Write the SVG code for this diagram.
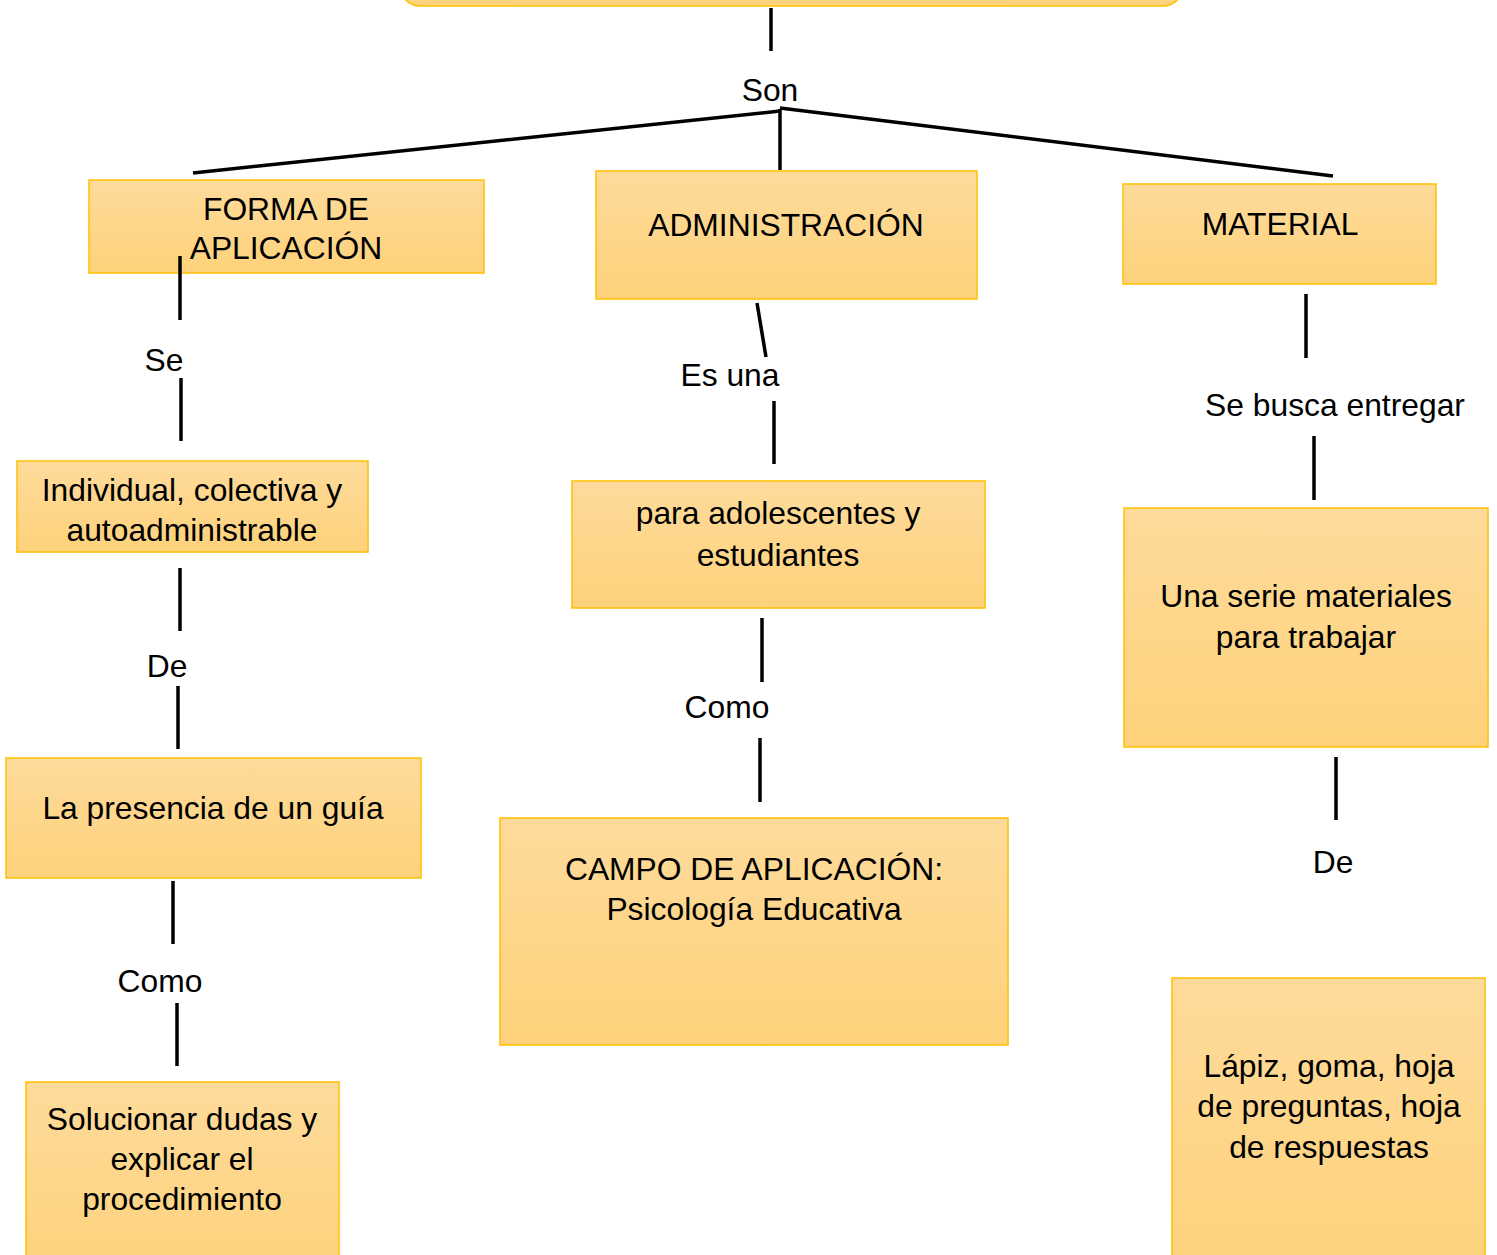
<svg xmlns="http://www.w3.org/2000/svg" width="1497" height="1255" viewBox="0 0 1497 1255">
<defs>
<linearGradient id="g" x1="0" y1="0" x2="0" y2="1">
<stop offset="0" stop-color="#fedb9b"/>
<stop offset="1" stop-color="#fed27b"/>
</linearGradient>
</defs>
<style>
.box{fill:url(#g);stroke:#ffc000;stroke-width:1.5}
.t{font-family:"Liberation Sans",Arial,sans-serif;font-size:31.8px;fill:#000;text-anchor:middle}
.c{stroke:#000;stroke-width:3.5;fill:none;stroke-linecap:butt}
</style>
<rect width="1497" height="1255" fill="#fff"/>
<g id="top"><rect class="box" x="400" y="-40" width="783" height="46" rx="20"/></g>
<g id="forma"><rect class="box" x="89" y="180" width="395" height="93"/><text class="t" x="286" y="220">FORMA DE</text><text class="t" x="286" y="259">APLICACIÓN</text></g>
<g id="admin"><rect class="box" x="596" y="171" width="381" height="128"/><text class="t" x="786" y="236">ADMINISTRACIÓN</text></g>
<g id="material"><rect class="box" x="1123" y="184" width="313" height="100"/><text class="t" x="1280" y="235">MATERIAL</text></g>
<g id="individual"><rect class="box" x="17" y="461" width="351" height="91"/><text class="t" x="192" y="501">Individual, colectiva y</text><text class="t" x="192" y="541">autoadministrable</text></g>
<g id="adolescentes"><rect class="box" x="572" y="481" width="413" height="127"/><text class="t" x="778" y="524">para adolescentes y</text><text class="t" x="778" y="566">estudiantes</text></g>
<g id="serie"><rect class="box" x="1124" y="508" width="364" height="239"/><text class="t" x="1306" y="607">Una serie materiales</text><text class="t" x="1306" y="648">para trabajar</text></g>
<g id="guia"><rect class="box" x="6" y="758" width="415" height="120"/><text class="t" x="213" y="819">La presencia de un guía</text></g>
<g id="campo"><rect class="box" x="500" y="818" width="508" height="227"/><text class="t" x="754" y="880">CAMPO DE APLICACIÓN:</text><text class="t" x="754" y="920">Psicología Educativa</text></g>
<g id="solucionar"><rect class="box" x="26" y="1082" width="313" height="200"/><text class="t" x="182" y="1130">Solucionar dudas y</text><text class="t" x="182" y="1170">explicar el</text><text class="t" x="182" y="1210">procedimiento</text></g>
<g id="lapiz"><rect class="box" x="1172" y="978" width="313" height="300"/><text class="t" x="1329" y="1077">Lápiz, goma, hoja</text><text class="t" x="1329" y="1117">de preguntas, hoja</text><text class="t" x="1329" y="1158">de respuestas</text></g>
<g id="connectors">
<line class="c" x1="771" y1="8" x2="771" y2="51"/>
<line class="c" x1="780" y1="111" x2="193" y2="173"/>
<line class="c" x1="780" y1="109" x2="780" y2="170"/>
<line class="c" x1="780" y1="108" x2="1333" y2="176"/>
<line class="c" x1="180" y1="256" x2="180" y2="320"/>
<line class="c" x1="181" y1="378" x2="181" y2="441"/>
<line class="c" x1="757" y1="303" x2="766" y2="357"/>
<line class="c" x1="774" y1="401" x2="774" y2="464"/>
<line class="c" x1="1306" y1="294" x2="1306" y2="358"/>
<line class="c" x1="1314" y1="436" x2="1314" y2="500"/>
<line class="c" x1="180" y1="568" x2="180" y2="631"/>
<line class="c" x1="178" y1="686" x2="178" y2="749"/>
<line class="c" x1="762" y1="618" x2="762" y2="682"/>
<line class="c" x1="760" y1="738" x2="760" y2="802"/>
<line class="c" x1="1336" y1="757" x2="1336" y2="820"/>
<line class="c" x1="173" y1="881" x2="173" y2="944"/>
<line class="c" x1="177" y1="1003" x2="177" y2="1066"/>
</g>
<g id="labels">
<text class="t" x="770" y="101">Son</text>
<text class="t" x="164" y="371">Se</text>
<text class="t" x="730" y="386">Es una</text>
<text class="t" x="1335" y="416">Se busca entregar</text>
<text class="t" x="167" y="677">De</text>
<text class="t" x="727" y="718">Como</text>
<text class="t" x="1333" y="873">De</text>
<text class="t" x="160" y="992">Como</text>
</g>
</svg>
